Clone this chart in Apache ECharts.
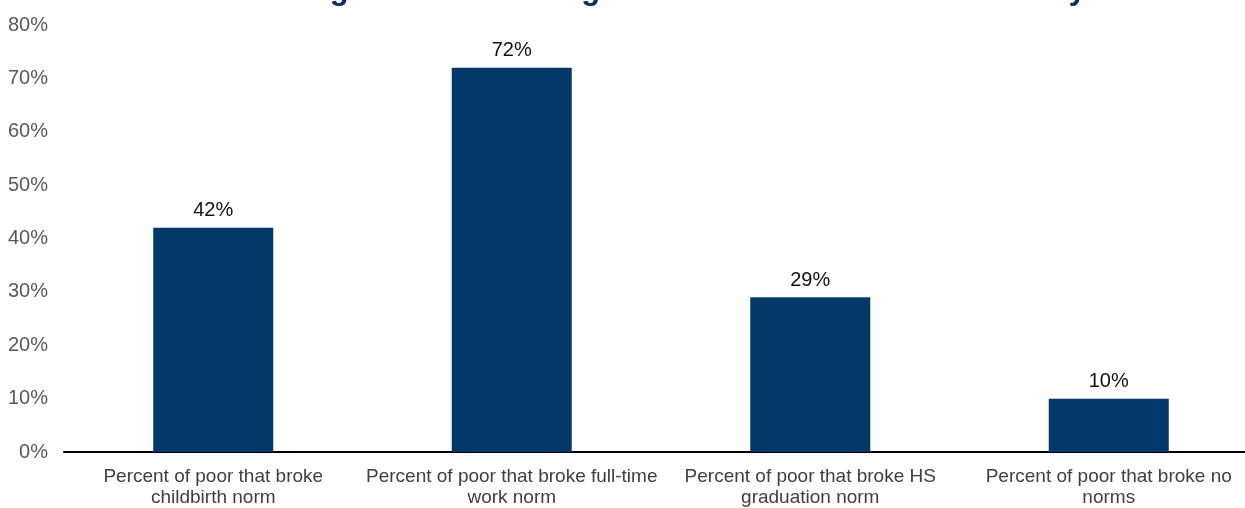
<!DOCTYPE html>
<html>
<head>
<meta charset="utf-8">
<script src="https://cdn.jsdelivr.net/npm/echarts@6/dist/echarts.min.js"></script>
<style>
  html, body { margin: 0; padding: 0; background: #ffffff; overflow: hidden; }
  #chart { width: 1258px; height: 508px; }
</style>
</head>
<body>
<div id="chart"></div>
<script>
// Share of poor adults by which social norm they broke
const titleText = 'Breaking the Norms Brings a Much Greater Risk of Poverty';
const categories = [
  'Percent of poor that broke\nchildbirth norm',
  'Percent of poor that broke full-time\nwork norm',
  'Percent of poor that broke HS\ngraduation norm',
  'Percent of poor that broke no\nnorms'
];
const shares = [42, 72, 29, 10];
const yTicks = [0, 10, 20, 30, 40, 50, 60, 70, 80];

const FONT = '"Liberation Sans", Arial, sans-serif';
const chart = echarts.init(document.getElementById('chart'), null, { renderer: 'canvas' });

chart.setOption({
  backgroundColor: '#ffffff',
  animation: false,
  graphic: [{
    type: 'text',
    left: 216,
    top: -25,
    style: {
      text: titleText,
      font: 'bold 31px ' + FONT,
      fill: '#0a2d63'
    }
  }],
  grid: { left: 64, top: 25, width: 1194, height: 427, containLabel: false },
  xAxis: {
    type: 'category',
    data: categories,
    axisLine: { show: true, lineStyle: { color: '#000000', width: 2 } },
    axisTick: { show: false },
    axisLabel: {
      interval: 0,
      margin: 14,
      color: '#404040',
      fontFamily: FONT,
      fontSize: 19,
      lineHeight: 21
    }
  },
  yAxis: {
    type: 'value',
    min: yTicks[0],
    max: yTicks[yTicks.length - 1],
    interval: 10,
    splitLine: { show: false },
    axisLine: { show: false },
    axisTick: { show: false },
    axisLabel: {
      margin: 16,
      color: '#595959',
      fontFamily: FONT,
      fontSize: 20,
      formatter: v => v + '%'
    }
  },
  series: [{
    type: 'bar',
    data: shares,
    barWidth: 120,
    itemStyle: { color: '#04386a' },
    label: {
      show: true,
      position: 'top',
      distance: 7,
      color: '#111111',
      fontFamily: FONT,
      fontSize: 20,
      formatter: p => p.value + '%'
    }
  }]
});
</script>
</body>
</html>
